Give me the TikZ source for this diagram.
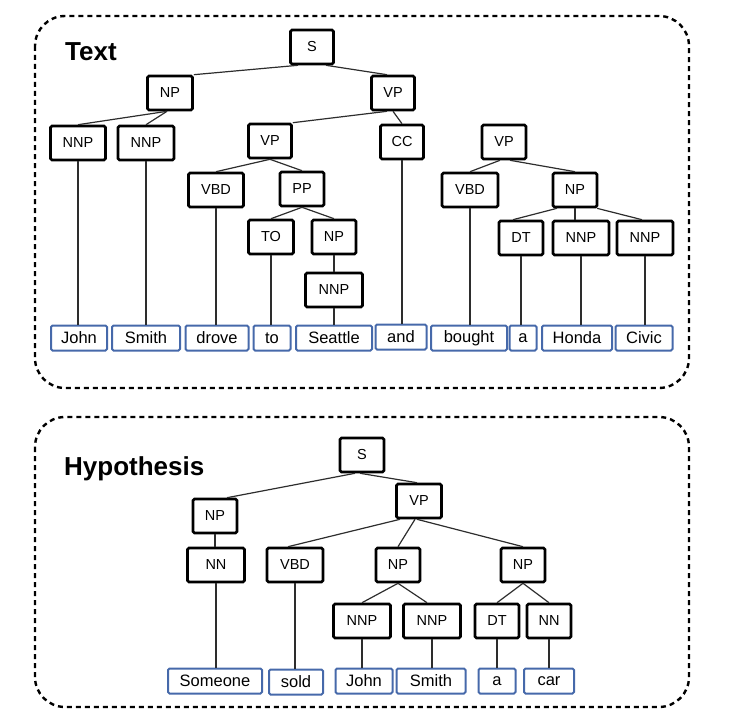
\documentclass[tikz,border=0pt]{standalone}
\usepackage{fontspec}
\setmainfont{Liberation Sans}
\definecolor{leafblue}{RGB}{70,105,170}
\definecolor{edgegray}{RGB}{45,45,45}
\begin{document}
\begin{tikzpicture}[x=1pt,y=-1pt,
  tb/.style={draw=black,line width=2.6pt,rounded corners=1.5pt,minimum height=34pt,inner sep=0pt,font=\fontsize{14.5}{16}\selectfont,fill=white},
  lf/.style={draw=leafblue,line width=2pt,rounded corners=1.5pt,minimum height=25pt,inner sep=0pt,font=\fontsize{16.5}{18}\selectfont,fill=white},
  ed/.style={draw=edgegray,line width=1.2pt},
  frame/.style={draw=black,line width=2.4pt,dash pattern=on 5pt off 4pt,rounded corners=30pt},
  ttl/.style={font=\fontsize{26}{30}\selectfont\bfseries,anchor=base west,inner sep=0pt}]
\useasboundingbox (0,0) rectangle (734,725);
\draw[frame] (35,16) rectangle (689,388);
\draw[frame] (35,417) rectangle (689,707);
\node[ttl] (t1) at (65,61) {Text};
\node[ttl] (t2) at (64,475) {Hypothesis};

% ---- Text tree ----
\node[tb,minimum width=43pt] (s) at (312,47) {S};
\node[tb,minimum width=45pt] (np) at (170,93) {NP};
\node[tb,minimum width=43pt] (vp) at (393,93) {VP};
\node[tb,minimum width=55pt] (nnp1) at (78,143) {NNP};
\node[tb,minimum width=56pt] (nnp2) at (146,143) {NNP};
\node[tb,minimum width=43pt] (vp2) at (270,141) {VP};
\node[tb,minimum width=43pt] (cc) at (402,142) {CC};
\node[tb,minimum width=55pt] (vbd) at (216,190) {VBD};
\node[tb,minimum width=44pt] (pp) at (302,189) {PP};
\node[tb,minimum width=45pt] (to) at (271,237) {TO};
\node[tb,minimum width=44pt] (np2) at (334,237) {NP};
\node[tb,minimum width=57pt] (nnp3) at (334,290) {NNP};
\node[tb,minimum width=44pt] (vp3) at (504,142) {VP};
\node[tb,minimum width=56pt] (vbd2) at (470,190) {VBD};
\node[tb,minimum width=44pt] (np3) at (575,190) {NP};
\node[tb,minimum width=44pt] (dt) at (521,238) {DT};
\node[tb,minimum width=56pt] (nnp4) at (581,238) {NNP};
\node[tb,minimum width=56pt] (nnp5) at (645,238) {NNP};

\node[lf,minimum width=56pt] (w1) at (79,338) {John};
\node[lf,minimum width=68pt] (w2) at (146,338) {Smith};
\node[lf,minimum width=63pt] (w3) at (217,338) {drove};
\node[lf,minimum width=37pt] (w4) at (272,338) {to};
\node[lf,minimum width=76pt] (w5) at (334,338) {Seattle};
\node[lf,minimum width=51pt] (w6) at (401,337) {and};
\node[lf,minimum width=76pt] (w7) at (469,338) {bought};
\node[lf,minimum width=27pt] (w8) at (523,338) {a};
\node[lf,minimum width=70pt] (w9) at (577,338) {Honda};
\node[lf,minimum width=57pt] (w10) at (644,338) {Civic};

\draw[ed] ([xshift=-14pt]s.south) -- (np.north east);
\draw[ed] ([xshift=14pt]s.south) -- ([xshift=-6pt]vp.north);
\draw[ed] ([xshift=-3pt]np.south) -- (nnp1.north);
\draw[ed] ([xshift=-3pt]np.south) -- (nnp2.north);
\draw[ed] ([xshift=-6pt]vp.south) -- (vp2.north east);
\draw[ed] (vp.south) -- (cc.north);
\draw[ed] (vp2.south) -- (vbd.north);
\draw[ed] (vp2.south) -- (pp.north);
\draw[ed] (pp.south) -- (to.north);
\draw[ed] (pp.south) -- (np2.north);
\draw[ed] (np2.south) -- (nnp3.north);
\draw[ed] ([xshift=-4pt]vp3.south) -- (vbd2.north);
\draw[ed] ([xshift=6pt]vp3.south) -- (np3.north);
\draw[ed] ([xshift=-18pt]np3.south) -- ([xshift=-8pt]dt.north);
\draw[ed] (np3.south) -- (nnp4.north -| np3.south);
\draw[ed] ([xshift=22pt]np3.south) -- ([xshift=-3pt]nnp5.north);

\draw[ed] (nnp1.south) -- (w1.north -| nnp1.south);
\draw[ed] (nnp2.south) -- (w2.north -| nnp2.south);
\draw[ed] (vbd.south) -- (w3.north -| vbd.south);
\draw[ed] (to.south) -- (w4.north -| to.south);
\draw[ed] (nnp3.south) -- (w5.north -| nnp3.south);
\draw[ed] (cc.south) -- (w6.north -| cc.south);
\draw[ed] (vbd2.south) -- (w7.north -| vbd2.south);
\draw[ed] (dt.south) -- (w8.north -| dt.south);
\draw[ed] (nnp4.south) -- (w9.north -| nnp4.south);
\draw[ed] (nnp5.south) -- (w10.north -| nnp5.south);

% ---- Hypothesis tree ----
\node[tb,minimum width=44pt] (hs) at (362,455) {S};
\node[tb,minimum width=44pt] (hnp) at (215,516) {NP};
\node[tb,minimum width=45pt] (hvp) at (419,501) {VP};
\node[tb,minimum width=57pt] (hnn) at (216,565) {NN};
\node[tb,minimum width=56pt] (hvbd) at (295,565) {VBD};
\node[tb,minimum width=44pt] (hnp2) at (398,565) {NP};
\node[tb,minimum width=44pt] (hnp3) at (523,565) {NP};
\node[tb,minimum width=57pt] (hnnp1) at (362,621) {NNP};
\node[tb,minimum width=57pt] (hnnp2) at (432,621) {NNP};
\node[tb,minimum width=44pt] (hdt) at (497,621) {DT};
\node[tb,minimum width=44pt] (hnn2) at (549,621) {NN};

\node[lf,minimum width=94pt] (h1) at (215,681) {Someone};
\node[lf,minimum width=54pt] (h2) at (296,682) {sold};
\node[lf,minimum width=57pt] (h3) at (364,681) {John};
\node[lf,minimum width=69pt] (h4) at (431,681) {Smith};
\node[lf,minimum width=37pt] (h5) at (497,681) {a};
\node[lf,minimum width=50pt] (h6) at (549,681) {car};

\draw[ed] ([xshift=-7pt]hs.south) -- ([xshift=12pt]hnp.north);
\draw[ed] ([xshift=-2pt]hs.south) -- ([xshift=-2pt]hvp.north);
\draw[ed] ([xshift=-19pt]hvp.south) -- ([xshift=-7pt]hvbd.north);
\draw[ed] ([xshift=-4pt]hvp.south) -- (hnp2.north);
\draw[ed] ([xshift=-2pt]hvp.south) -- (hnp3.north);
\draw[ed] (hnp.south) -- (hnn.north -| hnp.south);
\draw[ed] (hnp2.south) -- (hnnp1.north);
\draw[ed] (hnp2.south) -- ([xshift=-5pt]hnnp2.north);
\draw[ed] (hnp3.south) -- (hdt.north);
\draw[ed] (hnp3.south) -- (hnn2.north);

\draw[ed] (hnn.south) -- (h1.north -| hnn.south);
\draw[ed] (hvbd.south) -- (h2.north -| hvbd.south);
\draw[ed] (hnnp1.south) -- (h3.north -| hnnp1.south);
\draw[ed] (hnnp2.south) -- (h4.north -| hnnp2.south);
\draw[ed] (hdt.south) -- (h5.north -| hdt.south);
\draw[ed] (hnn2.south) -- (h6.north -| hnn2.south);
\end{tikzpicture}
\end{document}
